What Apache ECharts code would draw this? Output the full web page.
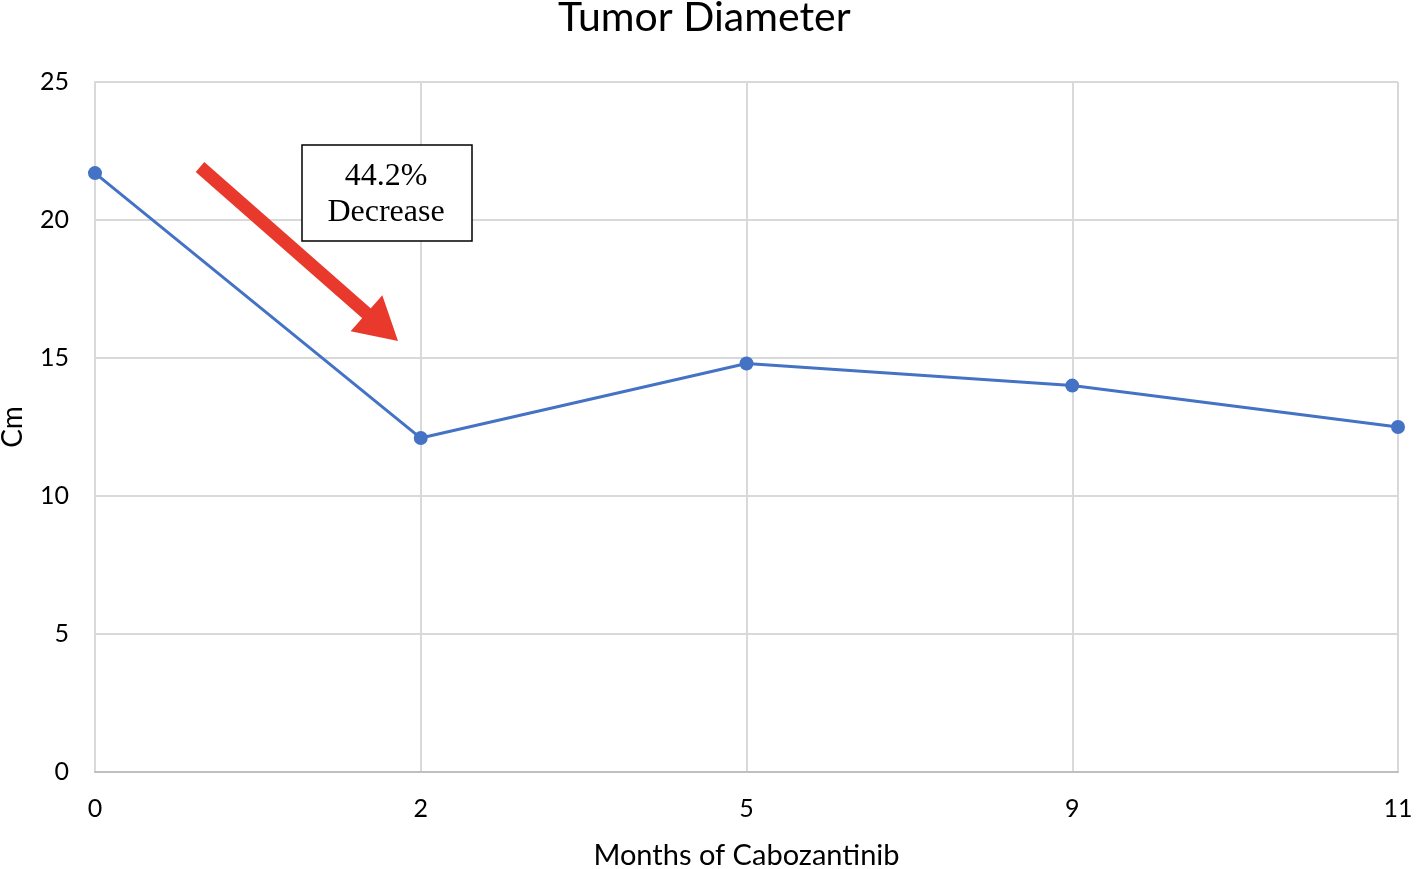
<!DOCTYPE html>
<html>
<head>
<meta charset="utf-8">
<script src="https://cdn.jsdelivr.net/npm/echarts@6/dist/echarts.min.js"></script>
<style>
  html, body { margin: 0; padding: 0; background: #fff; }
  #main { width: 1417px; height: 869px; }
</style>
</head>
<body>
<div id="main"></div>
<script>
// data
var months = ['0', '2', '5', '9', '11'];
var diameter = [21.7, 12.1, 14.8, 14.0, 12.5];
var yTicks = [0, 5, 10, 15, 20, 25];

var font = 'Lato, "Open Sans", sans-serif';

var myChart = echarts.init(document.getElementById('main'));

myChart.setOption({
    animation: false,
    title: {
        text: 'Tumor Diameter',
        left: 553,
        top: -8,
        textStyle: { fontFamily: font, fontSize: 41, fontWeight: 'normal', color: '#000' }
    },
    grid: { left: 95, right: 19, top: 82, bottom: 97, containLabel: false, outerBoundsMode: 'none' },
    xAxis: {
        type: 'category',
        data: months,
        boundaryGap: false,
        name: 'Months of Cabozantinib',
        nameLocation: 'middle',
        nameGap: 69,
        nameTextStyle: { fontFamily: font, fontSize: 29, color: '#000' },
        axisLine: { lineStyle: { color: '#bfbfbf', width: 2 } },
        axisTick: { show: false },
        axisLabel: { fontFamily: font, fontSize: 25, color: '#000', margin: 24 },
        splitLine: { show: true, lineStyle: { color: '#d9d9d9', width: 2 } }
    },
    yAxis: {
        type: 'value',
        min: yTicks[0],
        max: yTicks[yTicks.length - 1],
        interval: 5,
        name: 'Cm',
        nameLocation: 'middle',
        nameGap: 68,
        nameTextStyle: { fontFamily: font, fontSize: 28, color: '#000' },
        axisLine: { show: true, lineStyle: { color: '#d9d9d9', width: 2 } },
        axisTick: { show: false },
        axisLabel: { fontFamily: font, fontSize: 25, color: '#000', margin: 26 },
        splitLine: { lineStyle: { color: '#d9d9d9', width: 2 } }
    },
    series: [{
        type: 'line',
        data: diameter,
        symbol: 'circle',
        symbolSize: 14,
        lineStyle: { color: '#4472c4', width: 3 },
        itemStyle: { color: '#4472c4' }
    }]
});

// annotation: arrow and text box
var tail = [200, 167], tip = [398, 341];
var dx = tip[0] - tail[0], dy = tip[1] - tail[1];
var len = Math.sqrt(dx * dx + dy * dy);
var ux = dx / len, uy = dy / len, nx = -uy, ny = ux;
var headLen = 42, headHalf = 24;
var baseX = tip[0] - ux * headLen, baseY = tip[1] - uy * headLen;

myChart.setOption({
    graphic: [
        {
            type: 'line',
            shape: { x1: tail[0], y1: tail[1], x2: baseX + ux * 4, y2: baseY + uy * 4 },
            style: { stroke: '#e8392c', lineWidth: 13 }
        },
        {
            type: 'polygon',
            shape: { points: [
                [tip[0], tip[1]],
                [baseX + nx * headHalf, baseY + ny * headHalf],
                [baseX - nx * headHalf, baseY - ny * headHalf]
            ] },
            style: { fill: '#e8392c' }
        },
        {
            type: 'rect',
            shape: { x: 302, y: 145, width: 170, height: 96 },
            style: { fill: '#fff', stroke: '#000', lineWidth: 1.5 }
        },
        {
            type: 'text',
            x: 386, y: 195,
            style: {
                text: '44.2%\nDecrease',
                fontFamily: '"Liberation Serif", "DejaVu Serif", serif',
                fontSize: 32,
                lineHeight: 36,
                fill: '#000',
                align: 'center',
                verticalAlign: 'middle'
            }
        }
    ]
});
</script>
</body>
</html>
